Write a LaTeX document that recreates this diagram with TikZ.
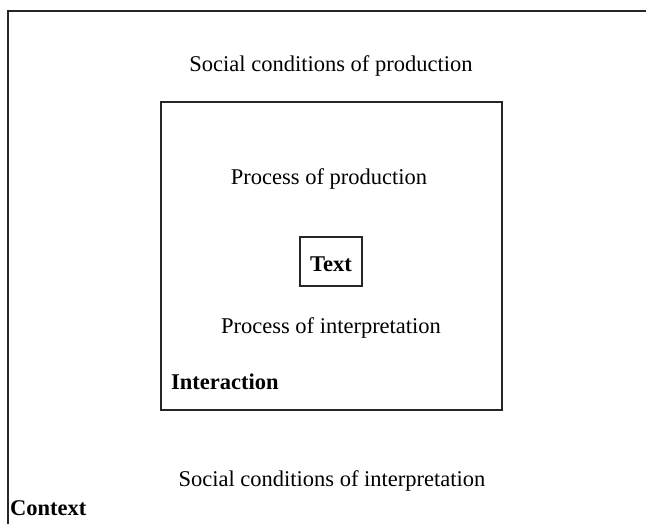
\documentclass[tikz,border=0pt]{standalone}
\usepackage{fontspec}
\setmainfont{Liberation Serif}
\begin{document}
\begin{tikzpicture}[x=1pt,y=-1pt,
  frame/.style={draw=black!85, line width=2pt},
  lbl/.style={font=\fontsize{22.5}{27}\selectfont, inner sep=0pt},
  blbl/.style={font=\fontsize{22.5}{27}\selectfont\bfseries, inner sep=0pt}]
\useasboundingbox (0,0) rectangle (646,524);
\draw[frame] (8,660) -- (8,11) -- (700,11);
\draw[frame] (161,102) rectangle (502,410);
\node[frame, minimum width=62pt, minimum height=49pt, inner sep=0pt] (text) at (331,261.5) {};
\node[blbl] (tl) at (331,264) {Text};
\node[lbl] (scp) at (331,66) {Social conditions of production};
\node[lbl] (pp) at (329,179) {Process of production};
\node[lbl] (pi) at (331,328) {Process of interpretation};
\node[blbl, anchor=west] (inter) at (171,382) {Interaction};
\node[lbl] (sci) at (332,481) {Social conditions of interpretation};
\node[blbl, anchor=west] (ctx) at (10,508) {Context};
\end{tikzpicture}
\end{document}
